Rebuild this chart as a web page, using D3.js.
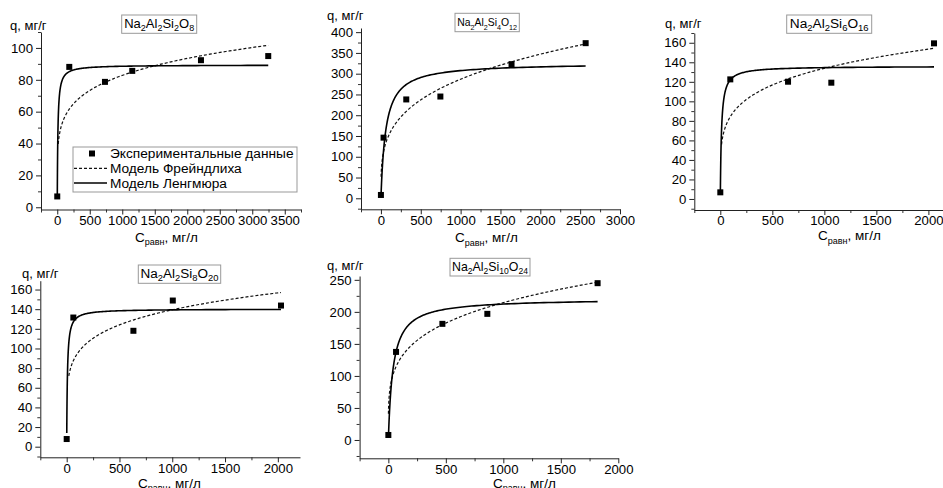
<!DOCTYPE html>
<html>
<head>
<meta charset="utf-8">
<script src="https://cdn.jsdelivr.net/npm/d3@7"></script>
<style>
  body { margin: 0; background: #fff; }
  svg { display: block; font-family: "Liberation Sans", Arial, sans-serif; }
</style>
</head>
<body>
<svg id="chart" width="943" height="488"></svg>
<script>
// Sorption isotherms for five sodium aluminosilicates
const titles = ["Na2Al2Si2O8", "Na2Al2Si4O12", "Na2Al2Si6O16", "Na2Al2Si8O20", "Na2Al2Si10O24"];

// Experimental points: equilibrium concentration (mg/l) and uptake q (mg/g)
const cExp = [
  [0, 185, 734, 1154, 2211, 3246],
  [0, 33, 318, 746, 1639, 2569],
  [0, 96, 651, 1067, 2054],
  [0, 63, 632, 1005, 2030],
  [0, 67, 470, 861, 1820]
];
const qExp = [
  [6.8, 88.1, 78.7, 85.6, 92.3, 94.9],
  [8, 146, 238, 245, 323, 373.5],
  [6.8, 122.5, 120.1, 119.1, 159.4],
  [7.8, 131.5, 118, 148.8, 143.7],
  [7.8, 137.5, 181.3, 196.9, 244.8]
];

// Fitted model parameters
const langmuirQmax = [89.3, 326, 136.0, 140.2, 220.8];
const langmuirK = [0.11, 0.0165, 0.0906, 0.1532, 0.02464];
const freundlichKf = [24.74, 42.9, 34.26, 43.58, 43.2];
const freundlichInvN = [0.1748, 0.275, 0.1973, 0.1683, 0.2319];
const langmuirFrom = [0.77, 1.7, 0.6, 0.72, 1.5];
const freundlichFrom = [15, 2, 12, 20, 0.8];

// Axis ticks
const xTickValues = [
  [0, 500, 1000, 1500, 2000, 2500, 3000, 3500],
  [0, 500, 1000, 1500, 2000, 2500, 3000],
  [0, 500, 1000, 1500, 2000],
  [0, 500, 1000, 1500, 2000],
  [0, 500, 1000, 1500, 2000]
];
const yTickValues = [
  [0, 20, 40, 60, 80, 100],
  [0, 50, 100, 150, 200, 250, 300, 350, 400],
  [0, 20, 40, 60, 80, 100, 120, 140, 160],
  [0, 20, 40, 60, 80, 100, 120, 140, 160],
  [0, 50, 100, 150, 200, 250]
];
const xMinorStep = [250, 250, 250, 250, 250];
const yMinorStep = [10, 25, 10, 10, 25];

const legendLabels = ["Экспериментальные данные", "Модель Фрейндлиха", "Модель Ленгмюра"];

// Panel geometry; title = [x, y, w, h, text width]
const panels = [
  { x0: 41,    x1: 301,   yTop: 32,    yBot: 209.5, xDom: [-250, 3750], yDom: [-1.4, 110],
    title: [121.7, 15, 75, 18.3, 70], yLab: [10, 29.5], xLab: [135, 241.5] },
  { x0: 361,   x1: 620,   yTop: 28,    yBot: 209.3, xDom: [-250, 3000], yDom: [-26.5, 410],
    title: [455, 13.3, 64.3, 18.4, 60], yLab: [327, 20], xLab: [455, 242] },
  { x0: 694.3, x1: 944,   yTop: 33,    yBot: 210,   xDom: [-250, 2150], yDom: [-11.3, 170],
    title: [786.7, 15, 85, 18.3, 79], yLab: [665, 28], xLab: [818, 240] },
  { x0: 40.3,  x1: 300,   yTop: 280.7, yBot: 457.3, xDom: [-250, 2210], yDom: [-10.8, 169],
    title: [138.3, 265, 82.4, 18.3, 78], yLab: [22, 278], xLab: [138, 487.8] },
  { x0: 359.6, x1: 618.3, yTop: 276,   yBot: 458.3, xDom: [-250, 2000], yDom: [-28.6, 256],
    title: [450, 258.3, 80, 17.7, 76], yLab: [327, 269.5], xLab: [493, 487.8] }
];

const svg = d3.select("#chart");
const tickFont = 13.2;
const markerSize = 6;

function minorValues(dom, step, major) {
  const out = [];
  const start = Math.ceil(dom[0] / step) * step;
  for (let v = start; v <= dom[1] + 1e-9; v += step) {
    if (!major.includes(v)) out.push(v);
  }
  return out;
}

// Appends text pieces; pieces flagged as subscripts are set smaller and lower
function addPieces(textSel, pieces, size, subSize) {
  let lowered = false;
  pieces.forEach(([str, isSub]) => {
    const dy = isSub && !lowered ? 3.5 : (!isSub && lowered ? -3.5 : 0);
    textSel.append("tspan")
      .attr("class", isSub ? "sub" : "main")
      .attr("font-size", isSub ? subSize : size)
      .attr("dy", dy)
      .text(str);
    lowered = isSub;
  });
}

function chemicalPieces(formula) {
  return formula.match(/[A-Za-z]+|\d+/g).map(p => [p, /^\d+$/.test(p)]);
}

panels.forEach((p, i) => {
  const x = d3.scaleLinear().domain(p.xDom).range([p.x0, p.x1]);
  const y = d3.scaleLinear().domain(p.yDom).range([p.yBot, p.yTop]);
  const g = svg.append("g");

  // minor ticks
  g.append("g")
    .attr("transform", `translate(0,${p.yBot})`)
    .call(d3.axisBottom(x).tickValues(minorValues(p.xDom, xMinorStep[i], xTickValues[i]))
      .tickSize(3).tickFormat(""))
    .call(s => s.select(".domain").remove())
    .call(s => s.selectAll("line").attr("stroke", "#333"));
  g.append("g")
    .attr("transform", `translate(${p.x0},0)`)
    .call(d3.axisLeft(y).tickValues(minorValues(p.yDom, yMinorStep[i], yTickValues[i]))
      .tickSize(3).tickFormat(""))
    .call(s => s.select(".domain").remove())
    .call(s => s.selectAll("line").attr("stroke", "#333"));

  // major axes
  const xa = g.append("g")
    .attr("transform", `translate(0,${p.yBot})`)
    .call(d3.axisBottom(x).tickValues(xTickValues[i]).tickSize(5).tickSizeOuter(0).tickFormat(d3.format("d")));
  xa.selectAll("text").attr("y", 6);
  const ya = g.append("g")
    .attr("transform", `translate(${p.x0},0)`)
    .call(d3.axisLeft(y).tickValues(yTickValues[i]).tickSize(5).tickSizeOuter(0).tickPadding(3).tickFormat(d3.format("d")));
  [xa, ya].forEach(a => {
    a.selectAll("text").attr("font-size", tickFont).attr("font-family", "Liberation Sans, Arial, sans-serif").attr("fill", "#000");
    a.selectAll("line").attr("stroke", "#222");
    a.select(".domain").attr("stroke", "#222");
  });

  // model curves
  const n = 240;
  const cEnd = cExp[i][cExp[i].length - 1];
  const grid = (c0) => d3.range(n).map(k => c0 * Math.pow(cEnd / c0, k / (n - 1)));
  const line = d3.line().x(d => x(d[0])).y(d => y(d[1]));

  const fr = grid(freundlichFrom[i]).map(c => [c, freundlichKf[i] * Math.pow(c, freundlichInvN[i])]);
  const la = grid(langmuirFrom[i]).map(c => [c, langmuirQmax[i] * langmuirK[i] * c / (1 + langmuirK[i] * c)]);

  g.append("path").datum(fr).attr("d", line)
    .attr("fill", "none").attr("stroke", "#111").attr("stroke-width", 1.2).attr("stroke-dasharray", "3,2");
  g.append("path").datum(la).attr("d", line)
    .attr("fill", "none").attr("stroke", "#000").attr("stroke-width", 1.6);

  // experimental points
  g.selectAll("rect.pt").data(cExp[i].map((c, k) => [c, qExp[i][k]]))
    .join("rect").attr("class", "pt")
    .attr("x", d => x(d[0]) - markerSize / 2).attr("y", d => y(d[1]) - markerSize / 2)
    .attr("width", markerSize).attr("height", markerSize).attr("fill", "#000");

  // title box, text fitted to the box
  const [tx, ty, tw, th, textW] = p.title;
  g.append("rect").attr("x", tx).attr("y", ty).attr("width", tw).attr("height", th)
    .attr("fill", "#fff").attr("stroke", "#999").attr("stroke-width", 1);
  const tt = g.append("text").attr("x", tx + tw / 2).attr("y", ty + th / 2 + 3.5)
    .attr("text-anchor", "middle").attr("fill", "#000");
  addPieces(tt, chemicalPieces(titles[i]), 13, 9);
  const k = textW / tt.node().getComputedTextLength();
  tt.selectAll("tspan.main").attr("font-size", 13 * k);
  tt.selectAll("tspan.sub").attr("font-size", 9 * k);

  // axis titles
  g.append("text").attr("x", p.yLab[0]).attr("y", p.yLab[1])
    .attr("font-size", 13).attr("fill", "#000").text("q, мг/г");
  const xl = g.append("text").attr("x", p.xLab[0]).attr("y", p.xLab[1]).attr("fill", "#000");
  addPieces(xl, [["C", false], ["равн", true], [", мг/л", false]], 13.5, 9);

  // legend (first panel only)
  if (i === 0) {
    const lg = g.append("g");
    lg.append("rect").attr("x", 73).attr("y", 147).attr("width", 224).attr("height", 45)
      .attr("fill", "#fff").attr("stroke", "#999").attr("stroke-width", 1);
    const rows = [153.5, 168.3, 183];
    lg.append("rect").attr("x", 92 - markerSize / 2).attr("y", rows[0] - markerSize / 2)
      .attr("width", markerSize).attr("height", markerSize).attr("fill", "#000");
    lg.append("line").attr("x1", 74).attr("x2", 107).attr("y1", rows[1]).attr("y2", rows[1])
      .attr("stroke", "#111").attr("stroke-width", 1.2).attr("stroke-dasharray", "3,2");
    lg.append("line").attr("x1", 74).attr("x2", 107).attr("y1", rows[2]).attr("y2", rows[2])
      .attr("stroke", "#000").attr("stroke-width", 1.6);
    legendLabels.forEach((t, j) => {
      lg.append("text").attr("x", 110).attr("y", rows[j] + 4.8)
        .attr("font-size", 13.7).attr("fill", "#000").text(t);
    });
  }
});
</script>
</body>
</html>
